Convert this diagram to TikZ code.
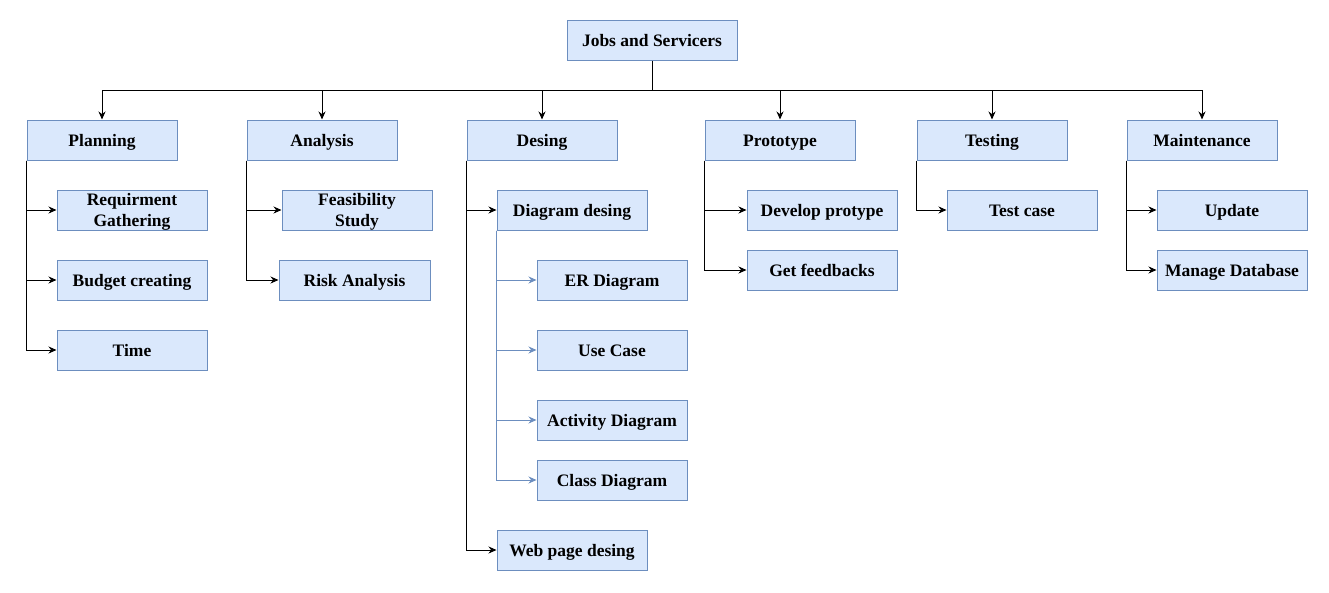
\documentclass[tikz,border=0pt]{standalone}
\usepackage{fontspec}
\setmainfont{Liberation Serif}
\usetikzlibrary{arrows.meta}
\definecolor{boxfill}{HTML}{DAE8FC}
\definecolor{boxline}{HTML}{6C8EBF}
\tikzset{
  box/.style={draw=boxline, fill=boxfill, line width=1pt, minimum width=150pt, minimum height=40pt,
    inner sep=0pt, align=center, text height=15pt, text depth=3pt,
    font=\fontsize{17.5}{21}\selectfont\bfseries},
  twoline/.style={text height=35pt, text depth=3pt},
  conn/.style={draw=black, line width=1pt, -{Stealth[length=8pt,width=7pt]}},
  plain/.style={draw=black, line width=1pt},
  subconn/.style={draw=boxline, line width=1pt, -{Stealth[length=8pt,width=7pt]}}
}
\begin{document}
\begin{tikzpicture}[x=1pt,y=-1pt]
\useasboundingbox (0,0) rectangle (1329,592);
% top
\node[box, minimum width=170pt] (top) at (652,40) {Jobs and Servicers};
% level 1
\node[box] (plan) at (102,140) {Planning};
\node[box] (anal) at (322,140) {Analysis};
\node[box] (des) at (542,140) {Desing};
\node[box] (proto) at (780,140) {Prototype};
\node[box] (test) at (992,140) {Testing};
\node[box] (maint) at (1202,140) {Maintenance};
% planning children
\node[box, twoline] (req) at (132,210) {Requirment\\Gathering};
\node[box] (budget) at (132,280) {Budget creating};
\node[box] (time) at (132,350) {Time};
% analysis children
\node[box, twoline] (feas) at (357,210) {Feasibility\\Study};
\node[box, minimum width=151pt] (risk) at (354.5,280) {Risk Analysis};
% desing children
\node[box] (diag) at (572,210) {Diagram desing};
\node[box] (er) at (612,280) {ER Diagram};
\node[box] (use) at (612,350) {Use Case};
\node[box] (act) at (612,420) {Activity Diagram};
\node[box] (cls) at (612,480) {Class Diagram};
\node[box] (web) at (572,550) {Web page desing};
% prototype children
\node[box] (dev) at (822,210) {Develop protype};
\node[box] (feed) at (822,270) {Get feedbacks};
% testing children
\node[box] (tcase) at (1022,210) {Test case};
% maintenance children
\node[box] (upd) at (1232,210) {Update};
\node[box] (mdb) at (1232,270) {Manage Database};
% bus
\coordinate (bus) at (652,90);
\draw[plain] (top.south) -- (bus);
\draw[plain] (bus -| plan.north) -- (bus -| maint.north);
\foreach \n in {plan,anal,des,proto,test,maint}
  \draw[conn] (bus -| \n.north) -- (\n.north);
% branches
\foreach \p/\c in {plan/req,plan/budget,plan/time,anal/feas,anal/risk,des/diag,des/web,proto/dev,proto/feed,test/tcase,maint/upd,maint/mdb}
  \draw[conn] (\p.south west) |- (\c.west);
\foreach \c in {er,use,act,cls}
  \draw[subconn] (diag.south west) |- (\c.west);
\end{tikzpicture}
\end{document}
